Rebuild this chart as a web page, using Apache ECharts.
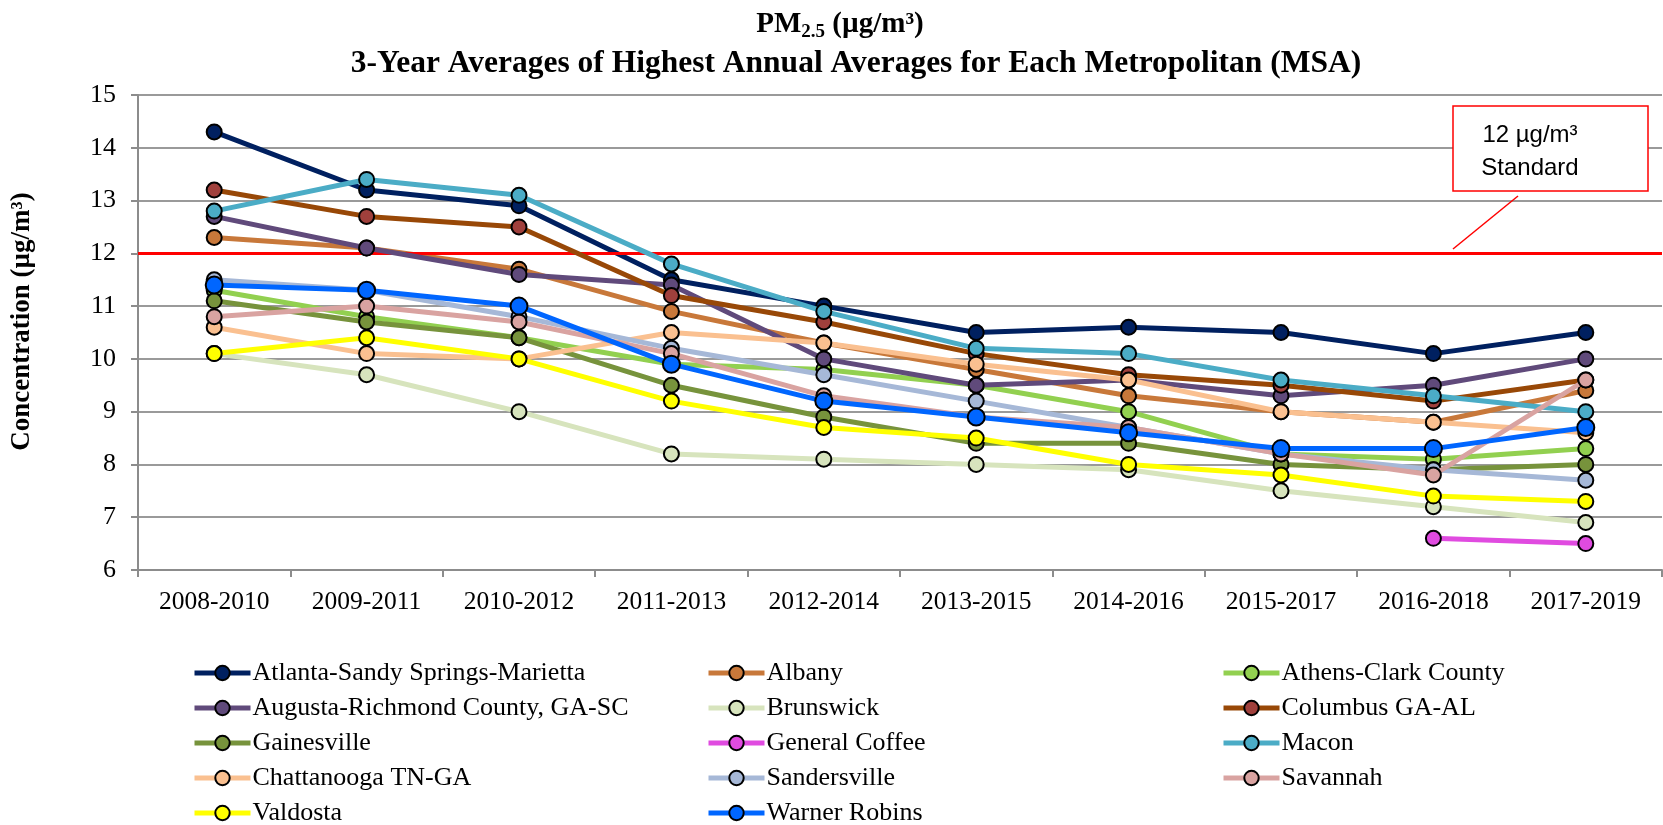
<!DOCTYPE html>
<html>
<head>
<meta charset="utf-8">
<script src="https://cdn.jsdelivr.net/npm/echarts@6/dist/echarts.min.js"></script>
<style>
  html, body { margin: 0; padding: 0; background: #fff; }
  #main { width: 1663px; height: 825px; }
</style>
</head>
<body>
<div id="main"></div>
<script>
// categories and values
var periods = ['2008-2010', '2009-2011', '2010-2012', '2011-2013', '2012-2014',
  '2013-2015', '2014-2016', '2015-2017', '2016-2018', '2017-2019']
var yTicks = { min: 6, max: 15, step: 1 }
var standardValue = 12

var atlanta = [14.3, 13.2, 12.9, 11.5, 11.0, 10.5, 10.6, 10.5, 10.1, 10.5]
var albany = [12.3, 12.1, 11.7, 10.9, 10.3, 9.8, 9.3, 9.0, 8.8, 9.4]
var athens = [11.3, 10.8, 10.4, 9.9, 9.8, 9.5, 9.0, 8.2, 8.1, 8.3]
var augusta = [12.7, 12.1, 11.6, 11.4, 10.0, 9.5, 9.6, 9.3, 9.5, 10.0]
var brunswick = [10.1, 9.7, 9.0, 8.2, 8.1, 8.0, 7.9, 7.5, 7.2, 6.9]
var columbus = [13.2, 12.7, 12.5, 11.2, 10.7, 10.1, 9.7, 9.5, 9.2, 9.6]
var gainesville = [11.1, 10.7, 10.4, 9.5, 8.9, 8.4, 8.4, 8.0, 7.9, 8.0]
var generalCoffee = [null, null, null, null, null, null, null, null, 6.6, 6.5]
var macon = [12.8, 13.4, 13.1, 11.8, 10.9, 10.2, 10.1, 9.6, 9.3, 9.0]
var chattanooga = [10.6, 10.1, 10.0, 10.5, 10.3, 9.9, 9.6, 9.0, 8.8, 8.6]
var sandersville = [11.5, 11.3, 10.8, 10.2, 9.7, 9.2, 8.7, 8.2, 7.9, 7.7]
var savannah = [10.8, 11.0, 10.7, 10.1, 9.3, 8.9, 8.7, 8.2, 7.8, 9.6]
var valdosta = [10.1, 10.4, 10.0, 9.2, 8.7, 8.5, 8.0, 7.8, 7.4, 7.3]
var warnerRobins = [11.4, 11.3, 11.0, 9.9, 9.2, 8.9, 8.6, 8.3, 8.3, 8.7]

// name, values, line colour, marker colour, marker size
var seriesDefs = [
  ['Atlanta-Sandy Springs-Marietta', atlanta, '#002060', '#002060', 15],
  ['Albany', albany, '#C8783A', '#C8783A', 15],
  ['Athens-Clark County', athens, '#92D050', '#92D050', 15],
  ['Augusta-Richmond County, GA-SC', augusta, '#604A7B', '#604A7B', 15],
  ['Brunswick', brunswick, '#D7E4BD', '#D7E4BD', 15],
  ['Columbus GA-AL', columbus, '#984807', '#A0403C', 15],
  ['Gainesville', gainesville, '#77933C', '#77933C', 15],
  ['General Coffee', generalCoffee, '#E04BE0', '#E04BE0', 15],
  ['Macon', macon, '#4BACC6', '#4BACC6', 15],
  ['Chattanooga TN-GA', chattanooga, '#FAC090', '#FAC090', 15],
  ['Sandersville', sandersville, '#A6B8D7', '#A6B8D7', 15],
  ['Savannah', savannah, '#D9A3A1', '#D9A3A1', 15],
  ['Valdosta', valdosta, '#FFFF00', '#FFFF00', 15],
  ['Warner Robins', warnerRobins, '#0066FF', '#0066FF', 17]
]

var serif = 'Liberation Serif'
var series = seriesDefs.map(function (d, i) {
  var s = {
    name: d[0],
    type: 'line',
    data: d[1],
    connectNulls: false,
    symbol: 'circle',
    symbolSize: d[4],
    lineStyle: { color: d[2], width: 5 },
    itemStyle: { color: d[3], borderColor: '#000', borderWidth: 2 },
    z: 3 + i
  }
  if (i === 0) {
    // 12 ug/m3 standard line
    s.markLine = {
      silent: true,
      symbol: 'none',
      label: { show: false },
      lineStyle: { color: '#FF0000', width: 3, type: 'solid' },
      data: [{ yAxis: standardValue }]
    }
  }
  return s
})

function legendAt (left, names) {
  return {
    orient: 'vertical',
    left: left,
    top: 660,
    height: 170,
    padding: 0,
    itemWidth: 56,
    itemHeight: 18,
    itemGap: 9,
    data: names,
    lineStyle: { width: 5 },
    textStyle: { fontFamily: serif, fontSize: 26, lineHeight: 25, color: '#000', padding: [0, 0, 0, -3] }
  }
}

var chart = echarts.init(document.getElementById('main'))
chart.setOption({
  backgroundColor: '#fff',
  animation: false,
  title: [
    {
      left: 835,
      textAlign: 'center',
      top: 0,
      text: '{a|PM}{s|2.5}{a| (µg/m³)}',
      textStyle: {
        rich: {
          a: { fontFamily: serif, fontWeight: 'bold', fontSize: 29, color: '#000', lineHeight: 39 },
          s: { fontFamily: serif, fontWeight: 'bold', fontSize: 19, color: '#000', lineHeight: 39, padding: [16, 0, 0, 0] }
        }
      }
    },
    {
      left: 851,
      textAlign: 'center',
      top: 39,
      text: '3-Year Averages of Highest Annual Averages for Each Metropolitan (MSA)',
      textStyle: { fontFamily: serif, fontWeight: 'bold', fontSize: 31.5, color: '#000', lineHeight: 39 }
    }
  ],
  legend: [
    legendAt(192, [seriesDefs[0][0], seriesDefs[3][0], seriesDefs[6][0], seriesDefs[9][0], seriesDefs[12][0]]),
    legendAt(706, [seriesDefs[1][0], seriesDefs[4][0], seriesDefs[7][0], seriesDefs[10][0], seriesDefs[13][0]]),
    legendAt(1221, [seriesDefs[2][0], seriesDefs[5][0], seriesDefs[8][0], seriesDefs[11][0]])
  ],
  grid: { left: 138, right: 1, top: 95, bottom: 255 },
  xAxis: {
    type: 'category',
    data: periods,
    boundaryGap: true,
    axisLine: { lineStyle: { color: '#8c8c8c', width: 2 } },
    axisTick: { show: true, length: 7, lineStyle: { color: '#8c8c8c', width: 2 } },
    axisLabel: { fontFamily: serif, fontSize: 25.5, color: '#000', margin: 19 }
  },
  yAxis: {
    type: 'value',
    min: yTicks.min,
    max: yTicks.max,
    interval: yTicks.step,
    name: 'Concentration (µg/m³)',
    nameLocation: 'middle',
    nameRotate: 90,
    nameGap: 102,
    nameTextStyle: { fontFamily: serif, fontWeight: 'bold', fontSize: 27, color: '#000', padding: [0, 0, 0, 22] },
    axisLine: { show: true, lineStyle: { color: '#8c8c8c', width: 2 } },
    axisTick: { show: true, length: 7, lineStyle: { color: '#8c8c8c', width: 2 } },
    axisLabel: { fontFamily: serif, fontSize: 26, color: '#000', margin: 22 },
    splitLine: { lineStyle: { color: '#9a9a9a', width: 2 } }
  },
  graphic: [
    {
      type: 'line',
      z: 100,
      shape: { x1: 1518, y1: 196, x2: 1453, y2: 249 },
      style: { stroke: '#FF0000', lineWidth: 1.5 }
    },
    {
      type: 'rect',
      z: 100,
      shape: { x: 1453, y: 106, width: 195, height: 85 },
      style: { fill: '#fff', stroke: '#FF0000', lineWidth: 1.5 }
    },
    {
      type: 'text',
      z: 101,
      x: 1530,
      y: 152,
      style: {
        text: '12 µg/m³\nStandard',
        fontFamily: 'Liberation Sans',
        fontSize: 24,
        lineHeight: 33,
        fill: '#000',
        align: 'center',
        verticalAlign: 'middle'
      }
    }
  ],
  series: series
})
window.onresize = chart.resize
</script>
</body>
</html>
